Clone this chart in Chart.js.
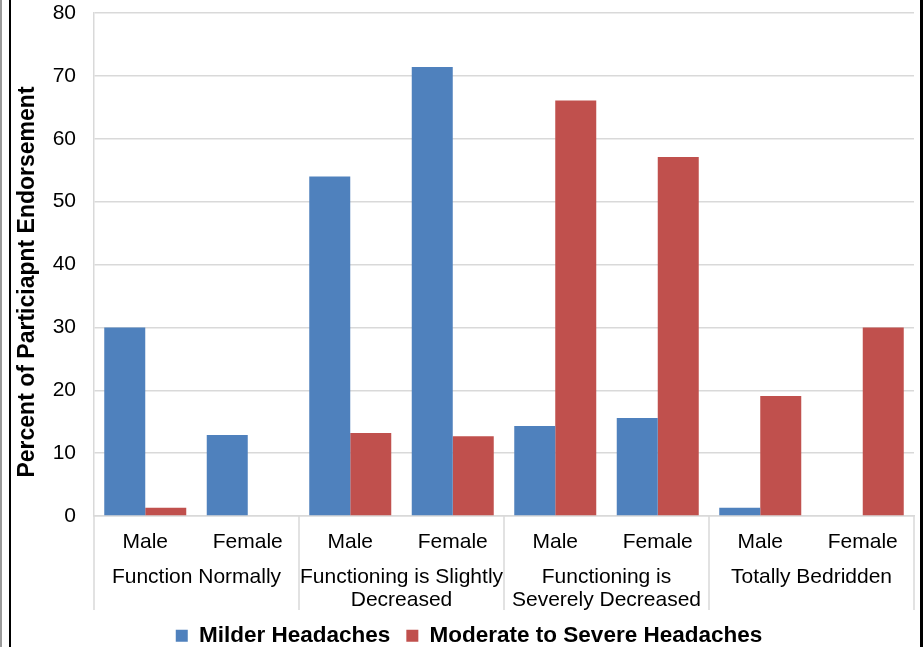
<!DOCTYPE html>
<html>
<head>
<meta charset="utf-8">
<script src="https://cdn.jsdelivr.net/npm/chart.js@4.4.1/dist/chart.umd.min.js"></script>
<style>
  html, body { margin: 0; padding: 0; background: #fff; }
  #wrap { position: relative; width: 924px; height: 647px; }
  #chart { position: absolute; left: 0; top: 0; }
  .edge { position: absolute; top: 0; height: 647px; }
</style>
</head>
<body>
<div id="wrap">
  <canvas id="chart" width="924" height="647"></canvas>
  <div class="edge" style="left:0;width:2px;background:#9a9a9a;"></div>
  <div class="edge" style="left:9px;width:2px;background:#000;"></div>
  <div class="edge" style="left:920px;width:3px;background:#000;"></div>
</div>
<script>
// Sub-categories (sex) and their parent groups (functioning level)
const sexLabels = ["Male", "Female", "Male", "Female", "Male", "Female", "Male", "Female"];
const groupLabels = [
  ["Function Normally"],
  ["Functioning is Slightly", "Decreased"],
  ["Functioning is", "Severely Decreased"],
  ["Totally Bedridden"]
];
// Percent of participant endorsement
const milderValues = [30, 12.9, 54, 71.4, 14.3, 15.6, 1.3, 0];
const severeValues = [1.3, 0, 13.2, 12.7, 66.1, 57.1, 19.1, 30];
const yTicks = [0, 10, 20, 30, 40, 50, 60, 70, 80];
const seriesNames = ["Milder Headaches", "Moderate to Severe Headaches"];
const yTitle = "Percent of Particiapnt Endorsement";

const FONT = "'Liberation Sans', Arial, sans-serif";
const GRID = "#d9d9d9";

// Group labels and separators below the category ticks, plus the y title
const groupAxisPlugin = {
  id: "groupAxis",
  afterDraw(chart) {
    const ctx = chart.ctx;
    const x = chart.scales.x;
    const area = chart.chartArea;
    const step = (x.getPixelForValue(1) - x.getPixelForValue(0));
    ctx.save();
    // separators between groups
    ctx.strokeStyle = GRID;
    ctx.lineWidth = 1.5;
    for (let g = 0; g <= groupLabels.length; g++) {
      const px = g === 0 ? area.left : (g === groupLabels.length ? area.right
        : x.getPixelForValue(2 * g) - step / 2);
      ctx.beginPath();
      ctx.moveTo(px, area.bottom);
      ctx.lineTo(px, area.bottom + 94);
      ctx.stroke();
    }
    // group names
    ctx.fillStyle = "#000";
    ctx.font = "21px " + FONT;
    ctx.textAlign = "center";
    ctx.textBaseline = "middle";
    groupLabels.forEach((lines, g) => {
      const cx = (x.getPixelForValue(2 * g) + x.getPixelForValue(2 * g + 1)) / 2;
      lines.forEach((t, i) => ctx.fillText(t, cx, area.bottom + 61 + i * 23));
    });
    // y axis title
    ctx.font = "bold 23px " + FONT;
    ctx.translate(28, 282);
    ctx.rotate(-Math.PI / 2);
    ctx.fillText(yTitle, 0, 0);
    ctx.restore();
  }
};

new Chart(document.getElementById("chart"), {
  type: "bar",
  data: {
    labels: sexLabels,
    datasets: [
      { label: seriesNames[0], data: milderValues, backgroundColor: "#4f81bd", borderColor: "#4f81bd", borderWidth: 0 },
      { label: seriesNames[1], data: severeValues, backgroundColor: "#c0504d", borderColor: "#c0504d", borderWidth: 0 }
    ]
  },
  options: {
    responsive: false,
    animation: false,
    layout: { padding: { top: 0, right: 10, left: 24, bottom: -10 } },
    datasets: { bar: { categoryPercentage: 0.8, barPercentage: 1.0 } },
    scales: {
      x: {
        grid: { display: false, drawTicks: false },
        border: { display: true, color: GRID, width: 1.5 },
        ticks: { color: "#000", font: { family: FONT, size: 21 }, padding: 14, maxRotation: 0, autoSkip: false },
        afterFit(scale) { scale.height = 92.5; }
      },
      y: {
        min: 0, max: 80,
        afterBuildTicks(scale) { scale.ticks = yTicks.map(v => ({ value: v })); },
        grid: { color: GRID, lineWidth: 1.5, drawTicks: false },
        border: { display: true, color: GRID, width: 1.5 },
        ticks: { color: "#000", font: { family: FONT, size: 21 }, padding: 18 },
        afterFit(scale) {
          scale.width = 70;
          scale.paddingTop = 13;
          scale.paddingBottom = 0;
        }
      }
    },
    plugins: {
      tooltip: { enabled: false },
      legend: {
        position: "bottom",
        labels: {
          color: "#000",
          font: { family: FONT, size: 22.5, weight: "bold" },
          boxWidth: 12, boxHeight: 12, padding: 16
        }
      }
    }
  },
  plugins: [groupAxisPlugin]
});
</script>
</body>
</html>
